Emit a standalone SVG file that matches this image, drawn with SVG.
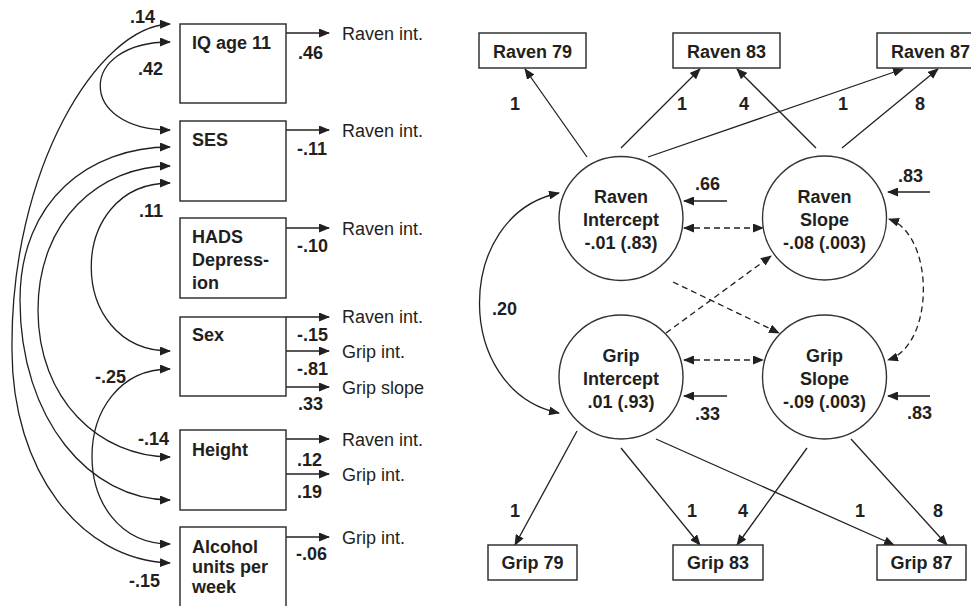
<svg xmlns="http://www.w3.org/2000/svg" width="971" height="606" viewBox="0 0 971 606">
<defs>
<marker id="ah" markerUnits="userSpaceOnUse" markerWidth="11" markerHeight="9" refX="10" refY="4.5" orient="auto-start-reverse" viewBox="0 0 11 9">
<path d="M0,0 L11,4.5 L0,9 z" fill="#231f20"/>
</marker>
<style>
.box{fill:#fff;stroke:#333;stroke-width:1.5}
.circ{fill:#fff;stroke:#333;stroke-width:1.4}
.t{font-family:"Liberation Sans",Arial,sans-serif;font-size:18px;font-weight:bold;fill:#231f20}
.r{font-family:"Liberation Sans",Arial,sans-serif;font-size:18px;fill:#231f20}
.c{text-anchor:middle}
.ln{fill:none;stroke:#231f20;stroke-width:1.3}
.a1{marker-end:url(#ah)}
.a2{marker-start:url(#ah);marker-end:url(#ah)}
.d{stroke-dasharray:6,4}
</style>
</defs>
<rect width="971" height="606" fill="#fff"/>

<g id="connectors">
<!-- left covariance curves -->
<path class="ln a2" d="M170,42 C77,42 77,130 170,130"/>
<path class="ln a2" d="M170,24 C98,26 10,170 12,350 C12,470 80,560 170,563"/>
<path class="ln a2" d="M170,147 C90,147 20,200 20,300 C20,420 90,500 170,500"/>
<path class="ln a2" d="M170,166 C100,166 38,220 38,310 C38,400 100,457 170,457"/>
<path class="ln a2" d="M170,183 C65,183 65,351 170,351"/>
<path class="ln a2" d="M170,369 C66,369 66,544 170,544"/>
<!-- left effect arrows -->
<path class="ln a1" d="M286,33 L329,33"/>
<path class="ln a1" d="M286,130 L329,130"/>
<path class="ln a1" d="M286,228 L329,228"/>
<path class="ln a1" d="M286,317 L329,317"/>
<path class="ln a1" d="M286,351 L329,351"/>
<path class="ln a1" d="M286,387 L329,387"/>
<path class="ln a1" d="M286,439 L329,439"/>
<path class="ln a1" d="M286,474 L329,474"/>
<path class="ln a1" d="M286,537 L329,537"/>
<!-- right loadings -->
<path class="ln a1" d="M587,157 L525,69"/>
<path class="ln a1" d="M621,148 L700,69"/>
<path class="ln a1" d="M648,157 L903,69"/>
<path class="ln a1" d="M816,148 L737,69"/>
<path class="ln a1" d="M842,148 L938,69"/>
<path class="ln a1" d="M577,431 L515,545"/>
<path class="ln a1" d="M621,448 L700,545"/>
<path class="ln a1" d="M656,439 L894,545"/>
<path class="ln a1" d="M807,448 L737,545"/>
<path class="ln a1" d="M851,439 L947,545"/>
<!-- residuals -->
<path class="ln a1" d="M727,201 L684,201"/>
<path class="ln a1" d="M727,396 L684,396"/>
<path class="ln a1" d="M930,192 L888,192"/>
<path class="ln a1" d="M930,396 L888,396"/>
<!-- covariances right -->
<path class="ln a2" d="M559,193 C453,215 453,391 559,413"/>
<path class="ln a2 d" d="M684,228 L763,228"/>
<path class="ln a2 d" d="M684,360 L763,360"/>
<path class="ln a1 d" d="M673,282 L779,333"/>
<path class="ln a1 d" d="M666,333 L771,256"/>
<path class="ln a2 d" d="M889,219 C935,235 935,345 888,360"/>
</g>

<g id="edge-labels">
<text class="t" x="130" y="23">.14</text>
<text class="t" x="138" y="75">.42</text>
<text class="t" x="139" y="217">.11</text>
<text class="t" x="95" y="383">-.25</text>
<text class="t" x="138" y="445">-.14</text>
<text class="t" x="129" y="587">-.15</text>
<text class="t" x="298" y="59">.46</text>
<text class="t" x="297" y="155">-.11</text>
<text class="t" x="297" y="252">-.10</text>
<text class="t" x="297" y="341">-.15</text>
<text class="t" x="297" y="375">-.81</text>
<text class="t" x="298" y="410">.33</text>
<text class="t" x="297" y="466">.12</text>
<text class="t" x="297" y="498">.19</text>
<text class="t" x="296" y="560">-.06</text>
<text class="r" x="342" y="40">Raven int.</text>
<text class="r" x="342" y="137">Raven int.</text>
<text class="r" x="342" y="235">Raven int.</text>
<text class="r" x="342" y="323">Raven int.</text>
<text class="r" x="342" y="358">Grip int.</text>
<text class="r" x="342" y="394">Grip slope</text>
<text class="r" x="342" y="446">Raven int.</text>
<text class="r" x="342" y="481">Grip int.</text>
<text class="r" x="342" y="544">Grip int.</text>
<text class="t" x="510" y="110">1</text>
<text class="t" x="677" y="110">1</text>
<text class="t" x="739" y="110">4</text>
<text class="t" x="838" y="110">1</text>
<text class="t" x="915" y="110">8</text>
<text class="t" x="510" y="517">1</text>
<text class="t" x="687" y="517">1</text>
<text class="t" x="738" y="517">4</text>
<text class="t" x="855" y="517">1</text>
<text class="t" x="933" y="517">8</text>
<text class="t" x="695" y="190">.66</text>
<text class="t" x="695" y="420">.33</text>
<text class="t" x="898" y="182">.83</text>
<text class="t" x="907" y="419">.83</text>
<text class="t" x="492" y="315">.20</text>
</g>

<g id="iq"><rect class="box" x="180" y="24" width="106" height="79"/><text class="t" x="192" y="49">IQ age 11</text></g>
<g id="ses"><rect class="box" x="180" y="121" width="106" height="80"/><text class="t" x="192" y="146">SES</text></g>
<g id="hads"><rect class="box" x="180" y="218" width="106" height="80"/><text class="t" x="192" y="243">HADS</text><text class="t" x="192" y="266">Depress-</text><text class="t" x="192" y="289">ion</text></g>
<g id="sex"><rect class="box" x="180" y="317" width="106" height="79"/><text class="t" x="192" y="341">Sex</text></g>
<g id="height"><rect class="box" x="180" y="430" width="106" height="80"/><text class="t" x="192" y="456">Height</text></g>
<g id="alcohol"><rect class="box" x="180" y="527" width="106" height="95"/><text class="t" x="192" y="553">Alcohol</text><text class="t" x="192" y="573">units per</text><text class="t" x="192" y="593">week</text></g>

<g id="raven79"><rect class="box" x="479" y="33" width="107" height="35"/><text class="t c" x="532.5" y="58">Raven 79</text></g>
<g id="raven83"><rect class="box" x="673" y="33" width="107" height="35"/><text class="t c" x="726.5" y="58">Raven 83</text></g>
<g id="raven87"><rect class="box" x="877" y="33" width="107" height="35"/><text class="t c" x="930.5" y="58">Raven 87</text></g>
<g id="grip79"><rect class="box" x="488" y="545" width="89" height="35"/><text class="t c" x="532.5" y="569">Grip 79</text></g>
<g id="grip83"><rect class="box" x="673" y="545" width="90" height="35"/><text class="t c" x="718" y="569">Grip 83</text></g>
<g id="grip87"><rect class="box" x="877" y="545" width="89" height="35"/><text class="t c" x="921.5" y="569">Grip 87</text></g>

<g id="raven-intercept"><circle class="circ" cx="621" cy="218.5" r="62"/><text class="t c" x="621" y="203">Raven</text><text class="t c" x="621" y="226">Intercept</text><text class="t c" x="621" y="249">-.01 (.83)</text></g>
<g id="raven-slope"><circle class="circ" cx="824.5" cy="218" r="62"/><text class="t c" x="824.5" y="203">Raven</text><text class="t c" x="824.5" y="226">Slope</text><text class="t c" x="824.5" y="249">-.08 (.003)</text></g>
<g id="grip-intercept"><circle class="circ" cx="621" cy="377" r="62"/><text class="t c" x="621" y="362">Grip</text><text class="t c" x="621" y="385">Intercept</text><text class="t c" x="621" y="408">.01 (.93)</text></g>
<g id="grip-slope"><circle class="circ" cx="824.5" cy="377" r="62"/><text class="t c" x="824.5" y="362">Grip</text><text class="t c" x="824.5" y="385">Slope</text><text class="t c" x="824.5" y="408">-.09 (.003)</text></g>
</svg>
